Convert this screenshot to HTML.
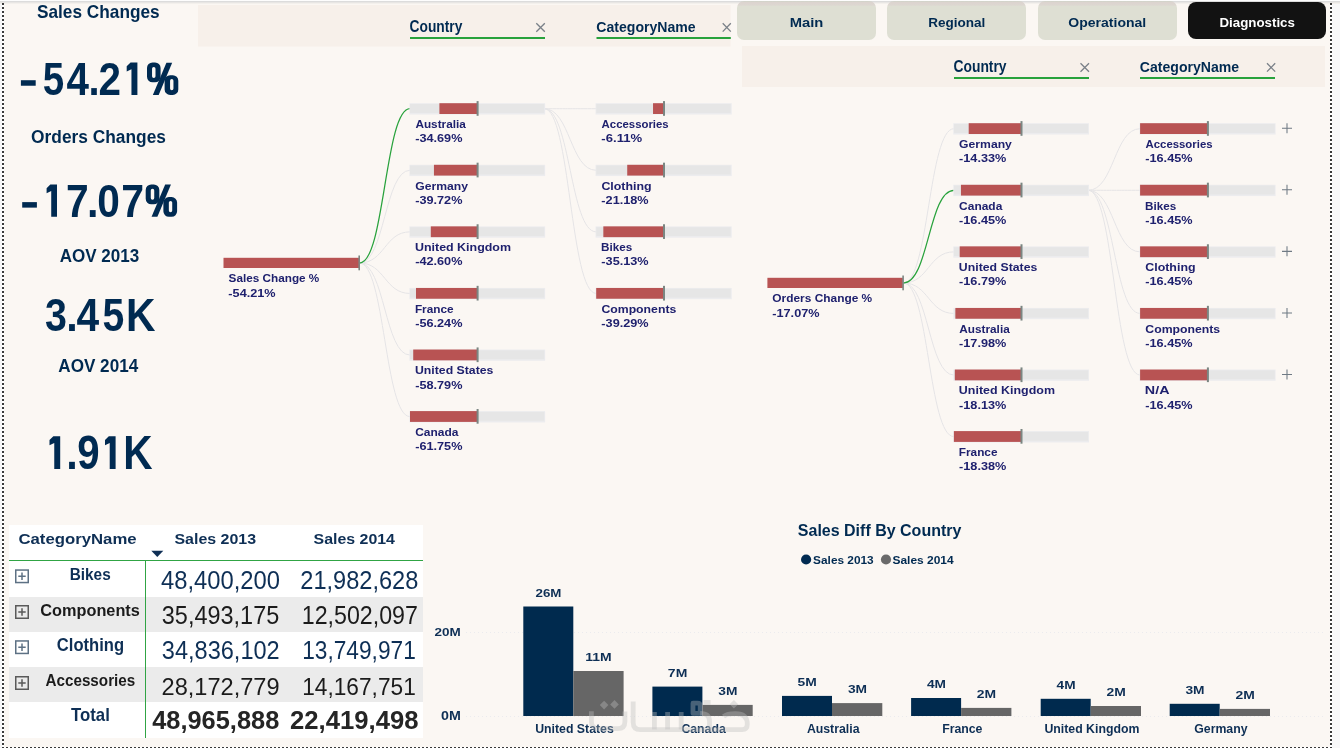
<!DOCTYPE html>
<html><head><meta charset="utf-8"><title>Diagnostics</title>
<style>
*{margin:0;padding:0;box-sizing:border-box}
html,body{width:1340px;height:748px;overflow:hidden;background:#f8f8f9;font-family:"Liberation Sans",sans-serif}
.abs{position:absolute}
#canvas{position:absolute;left:4px;top:2px;width:1326px;height:745px;background:#fbf7f3}
#topband{position:absolute;left:0;top:0;width:1340px;height:4px;background:linear-gradient(#fdfdfd 0,#fdfdfd 1px,#dcdcdc 1px,#dcdcdc 2px,#e8e6e4 2px,#e8e6e4 3px,#f3f0ec 3px,#f3f0ec 4px)}
.dotv{position:absolute;width:2px;background:repeating-linear-gradient(to bottom,#3a3a3a 0 2px,#fff 2px 4px)}
.doth{position:absolute;height:2px;background:repeating-linear-gradient(to right,#3a3a3a 0 2px,#fff 2px 4px)}
.btn{position:absolute;top:1px;height:39px;width:139px;border-radius:7px;background:linear-gradient(#cfd3c8 0,#dcd4cf 1.5px,#ddd7d1 4px,#dedfd3 5.5px)}
#tbl{position:absolute;left:9px;top:525px;width:414px;height:213px;background:#fff}
.grow{position:absolute;left:9px;width:414px;background:#ebebeb}
svg{position:absolute;left:0;top:0;will-change:transform}
text{font-family:"Liberation Sans",sans-serif}
</style></head><body>
<div id="canvas"></div>
<div id="topband"></div>
<div class="dotv" style="left:2px;top:3px;height:745px"></div>
<div class="dotv" style="left:1330px;top:3px;height:745px"></div>
<div class="doth" style="left:2px;top:747px;width:1330px"></div>
<div class="btn" style="left:737px"></div>
<div class="btn" style="left:887px"></div>
<div class="btn" style="left:1038px"></div>
<div class="btn" style="left:1188.4px;top:1.8px;height:37.1px;width:137.8px;background:#121212;border-radius:8px"></div>
<div id="tbl"></div>
<div class="grow" style="top:597px;height:34.5px"></div>
<div class="grow" style="top:667px;height:34.8px"></div>
<div class="abs" style="left:9px;top:559.8px;width:414px;height:1.3px;background:#30a444"></div>
<div class="abs" style="left:144.8px;top:561px;width:1.2px;height:176.5px;background:#30a444"></div>
<svg width="1340" height="748" viewBox="0 0 1340 748">
<text x="36.98" y="18.10" font-size="18.48" font-weight="700" fill="#002a51" textLength="122.74" lengthAdjust="spacingAndGlyphs">Sales Changes</text>
<rect x="20.90" y="80.22" width="14.80" height="5.51" fill="#002a51"/>
<text x="42.74" y="94.90" font-size="47.13" font-weight="700" fill="#002a51" textLength="21.46" lengthAdjust="spacingAndGlyphs">5</text>
<text x="66.49" y="94.90" font-size="47.13" font-weight="700" fill="#002a51" textLength="22.45" lengthAdjust="spacingAndGlyphs">4</text>
<text x="88.40" y="94.90" font-size="47.13" font-weight="700" fill="#002a51" textLength="11.11" lengthAdjust="spacingAndGlyphs">.</text>
<text x="98.59" y="94.90" font-size="47.13" font-weight="700" fill="#002a51" textLength="22.48" lengthAdjust="spacingAndGlyphs">2</text>
<path d="M126.70,66.23L130.55,62.50H137.40V94.90H131.46V69.21L126.70,71.44Z" fill="#002a51"/>
<path d="M152.50,62.50H155.08A5.50,5.50 0 0 1 160.58,68.00V76.86A5.50,5.50 0 0 1 155.08,82.36H152.50A5.50,5.50 0 0 1 147.00,76.86V68.00A5.50,5.50 0 0 1 152.50,62.50ZM153.74,66.97H153.81A1.70,1.70 0 0 1 155.51,68.67V76.19A1.70,1.70 0 0 1 153.81,77.89H153.74A1.70,1.70 0 0 1 152.04,76.19V68.67A1.70,1.70 0 0 1 153.74,66.97ZM170.12,75.14H172.80A5.50,5.50 0 0 1 178.30,80.64V89.40A5.50,5.50 0 0 1 172.80,94.90H170.12A5.50,5.50 0 0 1 164.62,89.40V80.64A5.50,5.50 0 0 1 170.12,75.14ZM171.76,79.02H171.76A1.69,1.69 0 0 1 173.45,80.71V88.54A1.69,1.69 0 0 1 171.76,90.23H171.76A1.69,1.69 0 0 1 170.07,88.54V80.71A1.69,1.69 0 0 1 171.76,79.02Z" fill="#002a51" fill-rule="evenodd"/><path d="M152.85,94.90L166.41,62.69H172.17L158.67,94.90Z" fill="#002a51"/>
<text x="31.11" y="143.20" font-size="18.90" font-weight="700" fill="#002a51" textLength="134.80" lengthAdjust="spacingAndGlyphs">Orders Changes</text>
<rect x="22.20" y="202.12" width="14.70" height="5.51" fill="#002a51"/>
<path d="M46.60,188.13L50.34,184.40H57.00V216.80H51.23V191.11L46.60,193.34Z" fill="#002a51"/>
<text x="66.06" y="216.80" font-size="47.13" font-weight="700" fill="#002a51" textLength="22.72" lengthAdjust="spacingAndGlyphs">7</text>
<text x="86.91" y="216.80" font-size="47.13" font-weight="700" fill="#002a51" textLength="11.50" lengthAdjust="spacingAndGlyphs">.</text>
<text x="97.37" y="216.80" font-size="47.13" font-weight="700" fill="#002a51" textLength="22.60" lengthAdjust="spacingAndGlyphs">0</text>
<text x="121.15" y="216.80" font-size="47.13" font-weight="700" fill="#002a51" textLength="22.84" lengthAdjust="spacingAndGlyphs">7</text>
<path d="M151.20,184.40H153.83A5.50,5.50 0 0 1 159.33,189.90V198.76A5.50,5.50 0 0 1 153.83,204.26H151.20A5.50,5.50 0 0 1 145.70,198.76V189.90A5.50,5.50 0 0 1 151.20,184.40ZM152.46,188.87H152.54A1.70,1.70 0 0 1 154.24,190.57V198.09A1.70,1.70 0 0 1 152.54,199.79H152.46A1.70,1.70 0 0 1 150.76,198.09V190.57A1.70,1.70 0 0 1 152.46,188.87ZM168.88,197.04H171.60A5.50,5.50 0 0 1 177.10,202.54V211.30A5.50,5.50 0 0 1 171.60,216.80H168.88A5.50,5.50 0 0 1 163.38,211.30V202.54A5.50,5.50 0 0 1 168.88,197.04ZM170.54,200.92H170.54A1.70,1.70 0 0 1 172.23,202.62V210.44A1.70,1.70 0 0 1 170.54,212.13H170.54A1.70,1.70 0 0 1 168.84,210.44V202.62A1.70,1.70 0 0 1 170.54,200.92Z" fill="#002a51" fill-rule="evenodd"/><path d="M151.57,216.80L165.17,184.59H170.95L157.41,216.80Z" fill="#002a51"/>
<text x="59.67" y="262.10" font-size="19.21" font-weight="700" fill="#002a51" textLength="79.56" lengthAdjust="spacingAndGlyphs">AOV 2013</text>
<text x="45.01" y="330.70" font-size="47.13" font-weight="700" fill="#002a51" textLength="21.91" lengthAdjust="spacingAndGlyphs">3</text>
<text x="66.21" y="330.70" font-size="47.13" font-weight="700" fill="#002a51" textLength="11.50" lengthAdjust="spacingAndGlyphs">.</text>
<text x="76.39" y="330.70" font-size="47.13" font-weight="700" fill="#002a51" textLength="22.66" lengthAdjust="spacingAndGlyphs">4</text>
<text x="102.42" y="330.70" font-size="47.13" font-weight="700" fill="#002a51" textLength="21.80" lengthAdjust="spacingAndGlyphs">5</text>
<text x="125.95" y="330.70" font-size="47.13" font-weight="700" fill="#002a51" textLength="29.45" lengthAdjust="spacingAndGlyphs">K</text>
<text x="58.27" y="372.20" font-size="18.92" font-weight="700" fill="#002a51" textLength="79.95" lengthAdjust="spacingAndGlyphs">AOV 2014</text>
<path d="M49.50,440.05L53.35,436.30H60.20V468.90H54.26V443.05L49.50,445.30Z" fill="#002a51"/>
<text x="66.31" y="468.90" font-size="47.42" font-weight="700" fill="#002a51" textLength="11.50" lengthAdjust="spacingAndGlyphs">.</text>
<text x="77.29" y="468.90" font-size="47.42" font-weight="700" fill="#002a51" textLength="22.36" lengthAdjust="spacingAndGlyphs">9</text>
<path d="M105.00,440.05L108.82,436.30H115.60V468.90H109.72V443.05L105.00,445.30Z" fill="#002a51"/>
<text x="123.36" y="468.90" font-size="47.42" font-weight="700" fill="#002a51" textLength="29.34" lengthAdjust="spacingAndGlyphs">K</text>
<rect x="198.00" y="5.00" width="532.50" height="41.50" fill="#f7f0ea"/>
<text x="409.55" y="32.10" font-size="15.91" font-weight="700" fill="#002a51" textLength="52.83" lengthAdjust="spacingAndGlyphs">Country</text>
<rect x="410.00" y="37.00" width="135.00" height="2.00" fill="#28a23c"/>
<path d="M536.3,23.3L544.8,31.8M544.8,23.3L536.3,31.8" fill="none" stroke="#7a8088" stroke-width="1.3"/>
<text x="596.34" y="31.80" font-size="15.20" font-weight="700" fill="#002a51" textLength="99.33" lengthAdjust="spacingAndGlyphs">CategoryName</text>
<rect x="596.50" y="37.00" width="134.30" height="2.00" fill="#28a23c"/>
<path d="M722.7,23.3L730.8,31.6M730.8,23.3L722.7,31.6" fill="none" stroke="#7a8088" stroke-width="1.3"/>
<path d="M359.5,263C384.75,263 384.75,170.27999999999997 410.0,170.27999999999997" fill="none" stroke="#e5e4e6" stroke-width="1"/>
<path d="M359.5,263C384.75,263 384.75,231.85999999999999 410.0,231.85999999999999" fill="none" stroke="#e5e4e6" stroke-width="1"/>
<path d="M359.5,263C384.75,263 384.75,293.44 410.0,293.44" fill="none" stroke="#e5e4e6" stroke-width="1"/>
<path d="M359.5,263C384.75,263 384.75,355.02 410.0,355.02" fill="none" stroke="#e5e4e6" stroke-width="1"/>
<path d="M359.5,263C384.75,263 384.75,416.59999999999997 410.0,416.59999999999997" fill="none" stroke="#e5e4e6" stroke-width="1"/>
<path d="M544.2,108.69999999999999C570.2,108.69999999999999 570.2,108.69999999999999 596.2,108.69999999999999" fill="none" stroke="#e5e4e6" stroke-width="1"/>
<path d="M544.2,108.69999999999999C570.2,108.69999999999999 570.2,170.27999999999997 596.2,170.27999999999997" fill="none" stroke="#e5e4e6" stroke-width="1"/>
<path d="M544.2,108.69999999999999C570.2,108.69999999999999 570.2,231.85999999999999 596.2,231.85999999999999" fill="none" stroke="#e5e4e6" stroke-width="1"/>
<path d="M544.2,108.69999999999999C570.2,108.69999999999999 570.2,293.44 596.2,293.44" fill="none" stroke="#e5e4e6" stroke-width="1"/>
<path d="M359.5,263C384.75,263 384.75,108.69999999999999 410.0,108.69999999999999" fill="none" stroke="#28a23c" stroke-width="1.25"/>
<rect x="223.50" y="257.80" width="135.50" height="10.20" fill="#b85353"/>
<rect x="358.40" y="255.50" width="1.60" height="14.80" fill="#7b8682"/>
<text x="228.55" y="282.20" font-size="11.80" font-weight="700" fill="#1f216e" textLength="90.78" lengthAdjust="spacingAndGlyphs">Sales Change %</text>
<text x="228.39" y="296.80" font-size="11.80" font-weight="700" fill="#1f216e" textLength="47.25" lengthAdjust="spacingAndGlyphs">-54.21%</text>
<rect x="409.40" y="103.20" width="135.70" height="11.30" fill="#ececee"/>
<rect x="410.00" y="104.00" width="134.20" height="8.90" fill="#e6e6e6"/>
<rect x="439.40" y="103.20" width="37.70" height="10.80" fill="#b85353"/>
<rect x="476.60" y="101.10" width="2.00" height="14.70" fill="#7b8682"/>
<text x="415.41" y="128.00" font-size="11.80" font-weight="700" fill="#1f216e" textLength="50.43" lengthAdjust="spacingAndGlyphs">Australia</text>
<text x="415.19" y="142.20" font-size="11.80" font-weight="700" fill="#1f216e" textLength="47.25" lengthAdjust="spacingAndGlyphs">-34.69%</text>
<rect x="409.40" y="164.78" width="135.70" height="11.30" fill="#ececee"/>
<rect x="410.00" y="165.58" width="134.20" height="8.90" fill="#e6e6e6"/>
<rect x="433.94" y="164.78" width="43.16" height="10.80" fill="#b85353"/>
<rect x="476.60" y="162.68" width="2.00" height="14.70" fill="#7b8682"/>
<text x="415.21" y="189.58" font-size="11.80" font-weight="700" fill="#1f216e" textLength="52.75" lengthAdjust="spacingAndGlyphs">Germany</text>
<text x="415.19" y="203.78" font-size="11.80" font-weight="700" fill="#1f216e" textLength="47.25" lengthAdjust="spacingAndGlyphs">-39.72%</text>
<rect x="409.40" y="226.36" width="135.70" height="11.30" fill="#ececee"/>
<rect x="410.00" y="227.16" width="134.20" height="8.90" fill="#e6e6e6"/>
<rect x="430.81" y="226.36" width="46.29" height="10.80" fill="#b85353"/>
<rect x="476.60" y="224.26" width="2.00" height="14.70" fill="#7b8682"/>
<text x="414.95" y="251.16" font-size="11.80" font-weight="700" fill="#1f216e" textLength="96.11" lengthAdjust="spacingAndGlyphs">United Kingdom</text>
<text x="415.19" y="265.36" font-size="11.80" font-weight="700" fill="#1f216e" textLength="47.25" lengthAdjust="spacingAndGlyphs">-42.60%</text>
<rect x="409.40" y="287.94" width="135.70" height="11.30" fill="#ececee"/>
<rect x="410.00" y="288.74" width="134.20" height="8.90" fill="#e6e6e6"/>
<rect x="415.99" y="287.94" width="61.11" height="10.80" fill="#b85353"/>
<rect x="476.60" y="285.84" width="2.00" height="14.70" fill="#7b8682"/>
<text x="414.90" y="312.74" font-size="11.80" font-weight="700" fill="#1f216e" textLength="38.70" lengthAdjust="spacingAndGlyphs">France</text>
<text x="415.19" y="326.94" font-size="11.80" font-weight="700" fill="#1f216e" textLength="47.25" lengthAdjust="spacingAndGlyphs">-56.24%</text>
<rect x="409.40" y="349.52" width="135.70" height="11.30" fill="#ececee"/>
<rect x="410.00" y="350.32" width="134.20" height="8.90" fill="#e6e6e6"/>
<rect x="413.22" y="349.52" width="63.88" height="10.80" fill="#b85353"/>
<rect x="476.60" y="347.42" width="2.00" height="14.70" fill="#7b8682"/>
<text x="414.96" y="374.32" font-size="11.80" font-weight="700" fill="#1f216e" textLength="78.43" lengthAdjust="spacingAndGlyphs">United States</text>
<text x="415.19" y="388.52" font-size="11.80" font-weight="700" fill="#1f216e" textLength="47.25" lengthAdjust="spacingAndGlyphs">-58.79%</text>
<rect x="409.40" y="411.10" width="135.70" height="11.30" fill="#ececee"/>
<rect x="410.00" y="411.90" width="134.20" height="8.90" fill="#e6e6e6"/>
<rect x="410.00" y="411.10" width="67.10" height="10.80" fill="#b85353"/>
<rect x="476.60" y="409.00" width="2.00" height="14.70" fill="#7b8682"/>
<text x="415.22" y="435.90" font-size="11.80" font-weight="700" fill="#1f216e" textLength="43.19" lengthAdjust="spacingAndGlyphs">Canada</text>
<text x="415.19" y="450.10" font-size="11.80" font-weight="700" fill="#1f216e" textLength="47.25" lengthAdjust="spacingAndGlyphs">-61.75%</text>
<rect x="595.60" y="103.20" width="136.10" height="11.30" fill="#ececee"/>
<rect x="596.20" y="104.00" width="134.60" height="8.90" fill="#e6e6e6"/>
<rect x="653.03" y="103.20" width="10.47" height="10.80" fill="#b85353"/>
<rect x="663.00" y="101.10" width="2.00" height="14.70" fill="#7b8682"/>
<text x="601.62" y="128.00" font-size="11.80" font-weight="700" fill="#1f216e" textLength="67.05" lengthAdjust="spacingAndGlyphs">Accessories</text>
<text x="601.38" y="142.20" font-size="11.80" font-weight="700" fill="#1f216e" textLength="40.76" lengthAdjust="spacingAndGlyphs">-6.11%</text>
<rect x="595.60" y="164.78" width="136.10" height="11.30" fill="#ececee"/>
<rect x="596.20" y="165.58" width="134.60" height="8.90" fill="#e6e6e6"/>
<rect x="627.22" y="164.78" width="36.28" height="10.80" fill="#b85353"/>
<rect x="663.00" y="162.68" width="2.00" height="14.70" fill="#7b8682"/>
<text x="601.40" y="189.58" font-size="11.80" font-weight="700" fill="#1f216e" textLength="50.22" lengthAdjust="spacingAndGlyphs">Clothing</text>
<text x="601.39" y="203.78" font-size="11.80" font-weight="700" fill="#1f216e" textLength="47.25" lengthAdjust="spacingAndGlyphs">-21.18%</text>
<rect x="595.60" y="226.36" width="136.10" height="11.30" fill="#ececee"/>
<rect x="596.20" y="227.16" width="134.60" height="8.90" fill="#e6e6e6"/>
<rect x="603.33" y="226.36" width="60.17" height="10.80" fill="#b85353"/>
<rect x="663.00" y="224.26" width="2.00" height="14.70" fill="#7b8682"/>
<text x="601.11" y="251.16" font-size="11.80" font-weight="700" fill="#1f216e" textLength="31.17" lengthAdjust="spacingAndGlyphs">Bikes</text>
<text x="601.39" y="265.36" font-size="11.80" font-weight="700" fill="#1f216e" textLength="47.25" lengthAdjust="spacingAndGlyphs">-35.13%</text>
<rect x="595.60" y="287.94" width="136.10" height="11.30" fill="#ececee"/>
<rect x="596.20" y="288.74" width="134.60" height="8.90" fill="#e6e6e6"/>
<rect x="596.20" y="287.94" width="67.30" height="10.80" fill="#b85353"/>
<rect x="663.00" y="285.84" width="2.00" height="14.70" fill="#7b8682"/>
<text x="601.41" y="312.74" font-size="11.80" font-weight="700" fill="#1f216e" textLength="74.89" lengthAdjust="spacingAndGlyphs">Components</text>
<text x="601.39" y="326.94" font-size="11.80" font-weight="700" fill="#1f216e" textLength="47.25" lengthAdjust="spacingAndGlyphs">-39.29%</text>
<rect x="742.00" y="46.00" width="583.00" height="41.00" fill="#f7f0ea"/>
<text x="953.45" y="72.10" font-size="15.91" font-weight="700" fill="#002a51" textLength="53.13" lengthAdjust="spacingAndGlyphs">Country</text>
<rect x="954.00" y="77.00" width="135.00" height="2.00" fill="#28a23c"/>
<path d="M1080.5,63.3L1089,71.8M1089,63.3L1080.5,71.8" fill="none" stroke="#7a8088" stroke-width="1.3"/>
<text x="1139.84" y="71.80" font-size="15.20" font-weight="700" fill="#002a51" textLength="99.33" lengthAdjust="spacingAndGlyphs">CategoryName</text>
<rect x="1140.00" y="77.00" width="135.00" height="2.00" fill="#28a23c"/>
<path d="M1267,63.3L1275.2,71.6M1275.2,63.3L1267,71.6" fill="none" stroke="#7a8088" stroke-width="1.3"/>
<path d="M903.4,283C928.65,283 928.65,128.7 953.9,128.7" fill="none" stroke="#e5e4e6" stroke-width="1"/>
<path d="M903.4,283C928.65,283 928.65,251.85999999999999 953.9,251.85999999999999" fill="none" stroke="#e5e4e6" stroke-width="1"/>
<path d="M903.4,283C928.65,283 928.65,313.44 953.9,313.44" fill="none" stroke="#e5e4e6" stroke-width="1"/>
<path d="M903.4,283C928.65,283 928.65,375.02 953.9,375.02" fill="none" stroke="#e5e4e6" stroke-width="1"/>
<path d="M903.4,283C928.65,283 928.65,436.59999999999997 953.9,436.59999999999997" fill="none" stroke="#e5e4e6" stroke-width="1"/>
<path d="M1088.1,190.27999999999997C1114.1,190.27999999999997 1114.1,128.7 1140.1,128.7" fill="none" stroke="#e5e4e6" stroke-width="1"/>
<path d="M1088.1,190.27999999999997C1114.1,190.27999999999997 1114.1,190.27999999999997 1140.1,190.27999999999997" fill="none" stroke="#e5e4e6" stroke-width="1"/>
<path d="M1088.1,190.27999999999997C1114.1,190.27999999999997 1114.1,251.85999999999999 1140.1,251.85999999999999" fill="none" stroke="#e5e4e6" stroke-width="1"/>
<path d="M1088.1,190.27999999999997C1114.1,190.27999999999997 1114.1,313.44 1140.1,313.44" fill="none" stroke="#e5e4e6" stroke-width="1"/>
<path d="M1088.1,190.27999999999997C1114.1,190.27999999999997 1114.1,375.02 1140.1,375.02" fill="none" stroke="#e5e4e6" stroke-width="1"/>
<path d="M903.4,283C928.65,283 928.65,190.27999999999997 953.9,190.27999999999997" fill="none" stroke="#28a23c" stroke-width="1.25"/>
<rect x="767.40" y="277.80" width="135.50" height="10.20" fill="#b85353"/>
<rect x="902.30" y="275.50" width="1.60" height="14.80" fill="#7b8682"/>
<text x="772.32" y="302.20" font-size="11.80" font-weight="700" fill="#1f216e" textLength="99.89" lengthAdjust="spacingAndGlyphs">Orders Change %</text>
<text x="772.29" y="316.80" font-size="11.80" font-weight="700" fill="#1f216e" textLength="47.25" lengthAdjust="spacingAndGlyphs">-17.07%</text>
<rect x="953.30" y="123.20" width="135.70" height="11.30" fill="#ececee"/>
<rect x="953.90" y="124.00" width="134.20" height="8.90" fill="#e6e6e6"/>
<rect x="968.69" y="123.20" width="52.31" height="10.80" fill="#b85353"/>
<rect x="1020.50" y="121.10" width="2.00" height="14.70" fill="#7b8682"/>
<text x="959.11" y="148.00" font-size="11.80" font-weight="700" fill="#1f216e" textLength="52.75" lengthAdjust="spacingAndGlyphs">Germany</text>
<text x="959.09" y="162.20" font-size="11.80" font-weight="700" fill="#1f216e" textLength="47.25" lengthAdjust="spacingAndGlyphs">-14.33%</text>
<rect x="953.30" y="184.78" width="135.70" height="11.30" fill="#ececee"/>
<rect x="953.90" y="185.58" width="134.20" height="8.90" fill="#e6e6e6"/>
<rect x="960.95" y="184.78" width="60.05" height="10.80" fill="#b85353"/>
<rect x="1020.50" y="182.68" width="2.00" height="14.70" fill="#7b8682"/>
<text x="959.12" y="209.58" font-size="11.80" font-weight="700" fill="#1f216e" textLength="43.19" lengthAdjust="spacingAndGlyphs">Canada</text>
<text x="959.09" y="223.78" font-size="11.80" font-weight="700" fill="#1f216e" textLength="47.25" lengthAdjust="spacingAndGlyphs">-16.45%</text>
<rect x="953.30" y="246.36" width="135.70" height="11.30" fill="#ececee"/>
<rect x="953.90" y="247.16" width="134.20" height="8.90" fill="#e6e6e6"/>
<rect x="959.70" y="246.36" width="61.30" height="10.80" fill="#b85353"/>
<rect x="1020.50" y="244.26" width="2.00" height="14.70" fill="#7b8682"/>
<text x="958.86" y="271.16" font-size="11.80" font-weight="700" fill="#1f216e" textLength="78.43" lengthAdjust="spacingAndGlyphs">United States</text>
<text x="959.09" y="285.36" font-size="11.80" font-weight="700" fill="#1f216e" textLength="47.25" lengthAdjust="spacingAndGlyphs">-16.79%</text>
<rect x="953.30" y="307.94" width="135.70" height="11.30" fill="#ececee"/>
<rect x="953.90" y="308.74" width="134.20" height="8.90" fill="#e6e6e6"/>
<rect x="955.36" y="307.94" width="65.64" height="10.80" fill="#b85353"/>
<rect x="1020.50" y="305.84" width="2.00" height="14.70" fill="#7b8682"/>
<text x="959.31" y="332.74" font-size="11.80" font-weight="700" fill="#1f216e" textLength="50.43" lengthAdjust="spacingAndGlyphs">Australia</text>
<text x="959.09" y="346.94" font-size="11.80" font-weight="700" fill="#1f216e" textLength="47.25" lengthAdjust="spacingAndGlyphs">-17.98%</text>
<rect x="953.30" y="369.52" width="135.70" height="11.30" fill="#ececee"/>
<rect x="953.90" y="370.32" width="134.20" height="8.90" fill="#e6e6e6"/>
<rect x="954.81" y="369.52" width="66.19" height="10.80" fill="#b85353"/>
<rect x="1020.50" y="367.42" width="2.00" height="14.70" fill="#7b8682"/>
<text x="958.85" y="394.32" font-size="11.80" font-weight="700" fill="#1f216e" textLength="96.11" lengthAdjust="spacingAndGlyphs">United Kingdom</text>
<text x="959.09" y="408.52" font-size="11.80" font-weight="700" fill="#1f216e" textLength="47.25" lengthAdjust="spacingAndGlyphs">-18.13%</text>
<rect x="953.30" y="431.10" width="135.70" height="11.30" fill="#ececee"/>
<rect x="953.90" y="431.90" width="134.20" height="8.90" fill="#e6e6e6"/>
<rect x="953.90" y="431.10" width="67.10" height="10.80" fill="#b85353"/>
<rect x="1020.50" y="429.00" width="2.00" height="14.70" fill="#7b8682"/>
<text x="958.80" y="455.90" font-size="11.80" font-weight="700" fill="#1f216e" textLength="38.70" lengthAdjust="spacingAndGlyphs">France</text>
<text x="959.09" y="470.10" font-size="11.80" font-weight="700" fill="#1f216e" textLength="47.25" lengthAdjust="spacingAndGlyphs">-18.38%</text>
<rect x="1139.50" y="123.20" width="136.10" height="11.30" fill="#ececee"/>
<rect x="1140.10" y="124.00" width="134.60" height="8.90" fill="#e6e6e6"/>
<rect x="1140.10" y="123.20" width="67.30" height="10.80" fill="#b85353"/>
<rect x="1206.90" y="121.10" width="2.00" height="14.70" fill="#7b8682"/>
<text x="1145.52" y="148.00" font-size="11.80" font-weight="700" fill="#1f216e" textLength="67.05" lengthAdjust="spacingAndGlyphs">Accessories</text>
<text x="1145.29" y="162.20" font-size="11.80" font-weight="700" fill="#1f216e" textLength="47.25" lengthAdjust="spacingAndGlyphs">-16.45%</text>
<path d="M1281.9999999999998,128.2H1291.9999999999998M1286.9999999999998,123.19999999999999V133.2" fill="none" stroke="#6f7a84" stroke-width="1.05"/>
<rect x="1139.50" y="184.78" width="136.10" height="11.30" fill="#ececee"/>
<rect x="1140.10" y="185.58" width="134.60" height="8.90" fill="#e6e6e6"/>
<rect x="1140.10" y="184.78" width="67.30" height="10.80" fill="#b85353"/>
<rect x="1206.90" y="182.68" width="2.00" height="14.70" fill="#7b8682"/>
<text x="1145.01" y="209.58" font-size="11.80" font-weight="700" fill="#1f216e" textLength="31.17" lengthAdjust="spacingAndGlyphs">Bikes</text>
<text x="1145.29" y="223.78" font-size="11.80" font-weight="700" fill="#1f216e" textLength="47.25" lengthAdjust="spacingAndGlyphs">-16.45%</text>
<path d="M1281.9999999999998,189.77999999999997H1291.9999999999998M1286.9999999999998,184.77999999999997V194.77999999999997" fill="none" stroke="#6f7a84" stroke-width="1.05"/>
<rect x="1139.50" y="246.36" width="136.10" height="11.30" fill="#ececee"/>
<rect x="1140.10" y="247.16" width="134.60" height="8.90" fill="#e6e6e6"/>
<rect x="1140.10" y="246.36" width="67.30" height="10.80" fill="#b85353"/>
<rect x="1206.90" y="244.26" width="2.00" height="14.70" fill="#7b8682"/>
<text x="1145.30" y="271.16" font-size="11.80" font-weight="700" fill="#1f216e" textLength="50.22" lengthAdjust="spacingAndGlyphs">Clothing</text>
<text x="1145.29" y="285.36" font-size="11.80" font-weight="700" fill="#1f216e" textLength="47.25" lengthAdjust="spacingAndGlyphs">-16.45%</text>
<path d="M1281.9999999999998,251.35999999999999H1291.9999999999998M1286.9999999999998,246.35999999999999V256.36" fill="none" stroke="#6f7a84" stroke-width="1.05"/>
<rect x="1139.50" y="307.94" width="136.10" height="11.30" fill="#ececee"/>
<rect x="1140.10" y="308.74" width="134.60" height="8.90" fill="#e6e6e6"/>
<rect x="1140.10" y="307.94" width="67.30" height="10.80" fill="#b85353"/>
<rect x="1206.90" y="305.84" width="2.00" height="14.70" fill="#7b8682"/>
<text x="1145.31" y="332.74" font-size="11.80" font-weight="700" fill="#1f216e" textLength="74.89" lengthAdjust="spacingAndGlyphs">Components</text>
<text x="1145.29" y="346.94" font-size="11.80" font-weight="700" fill="#1f216e" textLength="47.25" lengthAdjust="spacingAndGlyphs">-16.45%</text>
<path d="M1281.9999999999998,312.94H1291.9999999999998M1286.9999999999998,307.94V317.94" fill="none" stroke="#6f7a84" stroke-width="1.05"/>
<rect x="1139.50" y="369.52" width="136.10" height="11.30" fill="#ececee"/>
<rect x="1140.10" y="370.32" width="134.60" height="8.90" fill="#e6e6e6"/>
<rect x="1140.10" y="369.52" width="67.30" height="10.80" fill="#b85353"/>
<rect x="1206.90" y="367.42" width="2.00" height="14.70" fill="#7b8682"/>
<text x="1144.83" y="394.32" font-size="11.80" font-weight="700" fill="#1f216e" textLength="24.66" lengthAdjust="spacingAndGlyphs">N/A</text>
<text x="1145.29" y="408.52" font-size="11.80" font-weight="700" fill="#1f216e" textLength="47.25" lengthAdjust="spacingAndGlyphs">-16.45%</text>
<path d="M1281.9999999999998,374.52H1291.9999999999998M1286.9999999999998,369.52V379.52" fill="none" stroke="#6f7a84" stroke-width="1.05"/>
<text x="789.70" y="26.70" font-size="12.97" font-weight="700" fill="#002a51" textLength="33.59" lengthAdjust="spacingAndGlyphs">Main</text>
<text x="928.19" y="26.70" font-size="12.97" font-weight="700" fill="#002a51" textLength="57.17" lengthAdjust="spacingAndGlyphs">Regional</text>
<text x="1068.34" y="26.70" font-size="12.97" font-weight="700" fill="#002a51" textLength="77.93" lengthAdjust="spacingAndGlyphs">Operational</text>
<text x="1219.40" y="26.70" font-size="12.97" font-weight="700" fill="#ffffff" textLength="75.54" lengthAdjust="spacingAndGlyphs">Diagnostics</text>
<text x="18.43" y="544.30" font-size="15.48" font-weight="700" fill="#0e2f55" textLength="118.23" lengthAdjust="spacingAndGlyphs">CategoryName</text>
<text x="174.42" y="544.30" font-size="14.90" font-weight="700" fill="#0e2f55" textLength="81.75" lengthAdjust="spacingAndGlyphs">Sales 2013</text>
<text x="313.52" y="544.30" font-size="14.90" font-weight="700" fill="#0e2f55" textLength="81.47" lengthAdjust="spacingAndGlyphs">Sales 2014</text>
<path d="M151.3,550.8H163.3L157.3,557Z" fill="#0e2f55"/>
<text x="69.66" y="580.10" font-size="15.72" font-weight="700" fill="#0e2f55" textLength="41.07" lengthAdjust="spacingAndGlyphs">Bikes</text>
<text x="160.96" y="589.00" font-size="25.66" font-weight="400" fill="#0e2f55" textLength="119.03" lengthAdjust="spacingAndGlyphs">48,400,200</text>
<text x="300.32" y="589.00" font-size="25.66" font-weight="400" fill="#0e2f55" textLength="117.98" lengthAdjust="spacingAndGlyphs">21,982,628</text>
<text x="40.25" y="615.60" font-size="16.34" font-weight="700" fill="#1b1b1b" textLength="99.62" lengthAdjust="spacingAndGlyphs">Components</text>
<text x="161.82" y="623.70" font-size="24.95" font-weight="400" fill="#1b1b1b" textLength="117.42" lengthAdjust="spacingAndGlyphs">35,493,175</text>
<text x="301.76" y="623.70" font-size="24.95" font-weight="400" fill="#1b1b1b" textLength="116.20" lengthAdjust="spacingAndGlyphs">12,502,097</text>
<text x="56.84" y="651.10" font-size="17.66" font-weight="700" fill="#0e2f55" textLength="67.27" lengthAdjust="spacingAndGlyphs">Clothing</text>
<text x="161.82" y="658.60" font-size="24.95" font-weight="400" fill="#0e2f55" textLength="117.86" lengthAdjust="spacingAndGlyphs">34,836,102</text>
<text x="302.20" y="658.60" font-size="24.95" font-weight="400" fill="#0e2f55" textLength="113.58" lengthAdjust="spacingAndGlyphs">13,749,971</text>
<text x="45.52" y="685.80" font-size="16.69" font-weight="700" fill="#1b1b1b" textLength="89.70" lengthAdjust="spacingAndGlyphs">Accessories</text>
<text x="161.52" y="694.60" font-size="24.80" font-weight="400" fill="#1b1b1b" textLength="118.04" lengthAdjust="spacingAndGlyphs">28,172,779</text>
<text x="302.20" y="694.60" font-size="24.80" font-weight="400" fill="#1b1b1b" textLength="113.58" lengthAdjust="spacingAndGlyphs">14,167,751</text>
<text x="71.03" y="721.10" font-size="17.66" font-weight="700" fill="#0e2f55" textLength="38.83" lengthAdjust="spacingAndGlyphs">Total</text>
<text x="152.22" y="728.80" font-size="25.09" font-weight="700" fill="#252525" textLength="127.04" lengthAdjust="spacingAndGlyphs">48,965,888</text>
<text x="290.00" y="728.80" font-size="25.09" font-weight="700" fill="#252525" textLength="128.47" lengthAdjust="spacingAndGlyphs">22,419,498</text>
<rect x="15.75" y="570.05" width="12.5" height="12.5" fill="none" stroke="#5d7184" stroke-width="1.5"/>
<path d="M18.3,576.3H25.7M22,572.6V580.0" fill="none" stroke="#5d7184" stroke-width="1.5"/>
<rect x="15.75" y="605.75" width="12.5" height="12.5" fill="none" stroke="#5a5a5a" stroke-width="1.5"/>
<path d="M18.3,612.0H25.7M22,608.3V615.7" fill="none" stroke="#5a5a5a" stroke-width="1.5"/>
<rect x="15.75" y="640.95" width="12.5" height="12.5" fill="none" stroke="#5d7184" stroke-width="1.5"/>
<path d="M18.3,647.2H25.7M22,643.5V650.9" fill="none" stroke="#5d7184" stroke-width="1.5"/>
<rect x="15.75" y="676.75" width="12.5" height="12.5" fill="none" stroke="#5a5a5a" stroke-width="1.5"/>
<path d="M18.3,683.0H25.7M22,679.3V686.7" fill="none" stroke="#5a5a5a" stroke-width="1.5"/>
<text x="797.82" y="536.20" font-size="16.69" font-weight="700" fill="#002a51" textLength="163.59" lengthAdjust="spacingAndGlyphs">Sales Diff By Country</text>
<circle cx="806.1" cy="559.5" r="5.1" fill="#002a51"/>
<circle cx="886" cy="559.5" r="5.1" fill="#6a6a6a"/>
<text x="813.14" y="564.40" font-size="11.59" font-weight="700" fill="#002a51" textLength="60.58" lengthAdjust="spacingAndGlyphs">Sales 2013</text>
<text x="892.44" y="564.40" font-size="11.59" font-weight="700" fill="#002a51" textLength="61.23" lengthAdjust="spacingAndGlyphs">Sales 2014</text>
<line x1="466" y1="632.5" x2="1323" y2="632.5" stroke="#ebebee" stroke-width="1" stroke-dasharray="1,3"/>
<line x1="466" y1="716.5" x2="1323" y2="716.5" stroke="#ebebee" stroke-width="1" stroke-dasharray="1,3"/>
<text x="434.53" y="635.70" font-size="11.61" font-weight="700" fill="#0e2f55" textLength="26.25" lengthAdjust="spacingAndGlyphs">20M</text>
<text x="441.13" y="719.80" font-size="11.90" font-weight="700" fill="#0e2f55" textLength="19.82" lengthAdjust="spacingAndGlyphs">0M</text>
<rect x="523.30" y="606.50" width="50.00" height="109.50" fill="#002a4e"/>
<rect x="573.30" y="671.00" width="50.30" height="45.00" fill="#666666"/>
<text x="535.53" y="596.50" font-size="11.80" font-weight="700" fill="#0e2f55" textLength="25.94" lengthAdjust="spacingAndGlyphs">26M</text>
<text x="585.33" y="661.00" font-size="11.80" font-weight="700" fill="#0e2f55" textLength="26.38" lengthAdjust="spacingAndGlyphs">11M</text>
<text x="574.50" y="732.8" font-size="12.3" font-weight="700" fill="#0e2f55" text-anchor="middle" class="bl">United States</text>
<rect x="652.40" y="686.60" width="50.00" height="29.40" fill="#002a4e"/>
<rect x="702.40" y="704.90" width="50.30" height="11.10" fill="#666666"/>
<text x="667.86" y="676.60" font-size="11.80" font-weight="700" fill="#0e2f55" textLength="19.43" lengthAdjust="spacingAndGlyphs">7M</text>
<text x="718.34" y="694.90" font-size="11.80" font-weight="700" fill="#0e2f55" textLength="19.13" lengthAdjust="spacingAndGlyphs">3M</text>
<text x="703.60" y="732.8" font-size="12.3" font-weight="700" fill="#0e2f55" text-anchor="middle" class="bl">Canada</text>
<rect x="782.00" y="695.90" width="50.00" height="20.10" fill="#002a4e"/>
<rect x="832.00" y="703.10" width="50.30" height="12.90" fill="#666666"/>
<text x="797.63" y="685.90" font-size="11.80" font-weight="700" fill="#0e2f55" textLength="19.24" lengthAdjust="spacingAndGlyphs">5M</text>
<text x="847.94" y="693.10" font-size="11.80" font-weight="700" fill="#0e2f55" textLength="19.13" lengthAdjust="spacingAndGlyphs">3M</text>
<text x="833.20" y="732.8" font-size="12.3" font-weight="700" fill="#0e2f55" text-anchor="middle" class="bl">Australia</text>
<rect x="911.10" y="698.00" width="50.00" height="18.00" fill="#002a4e"/>
<rect x="961.10" y="707.90" width="50.30" height="8.10" fill="#666666"/>
<text x="926.94" y="688.00" font-size="11.80" font-weight="700" fill="#0e2f55" textLength="19.02" lengthAdjust="spacingAndGlyphs">4M</text>
<text x="976.86" y="697.90" font-size="11.80" font-weight="700" fill="#0e2f55" textLength="19.31" lengthAdjust="spacingAndGlyphs">2M</text>
<text x="962.30" y="732.8" font-size="12.3" font-weight="700" fill="#0e2f55" text-anchor="middle" class="bl">France</text>
<rect x="1040.70" y="698.80" width="50.00" height="17.20" fill="#002a4e"/>
<rect x="1090.70" y="706.00" width="50.30" height="10.00" fill="#666666"/>
<text x="1056.54" y="688.80" font-size="11.80" font-weight="700" fill="#0e2f55" textLength="19.02" lengthAdjust="spacingAndGlyphs">4M</text>
<text x="1106.46" y="696.00" font-size="11.80" font-weight="700" fill="#0e2f55" textLength="19.31" lengthAdjust="spacingAndGlyphs">2M</text>
<text x="1091.90" y="732.8" font-size="12.3" font-weight="700" fill="#0e2f55" text-anchor="middle" class="bl">United Kingdom</text>
<rect x="1169.70" y="703.80" width="50.00" height="12.20" fill="#002a4e"/>
<rect x="1219.70" y="708.90" width="50.30" height="7.10" fill="#666666"/>
<text x="1185.44" y="693.80" font-size="11.80" font-weight="700" fill="#0e2f55" textLength="19.13" lengthAdjust="spacingAndGlyphs">3M</text>
<text x="1235.46" y="698.90" font-size="11.80" font-weight="700" fill="#0e2f55" textLength="19.31" lengthAdjust="spacingAndGlyphs">2M</text>
<text x="1220.90" y="732.8" font-size="12.3" font-weight="700" fill="#0e2f55" text-anchor="middle" class="bl">Germany</text>
<g fill="none" stroke="rgba(190,190,190,0.38)" stroke-width="4.8" stroke-linejoin="round"><path d="M591.4,711.2V721.5Q591.4,728.7 598.6,728.7H617.8Q624.9,728.7 624.9,721.5V711.5"/><path d="M633.2,701.5V722.4Q633.2,729.6 640.4,729.6H742Q747.3,729.6 747.3,724Q747.3,713.6 735.5,713.6Q727,713.6 723.5,716.5"/><path d="M654.4,712V729.6M667.6,712V729.6M681.2,712V729.6"/><path d="M693,703.2H697.6Q700.2,703.2 700.2,705.8V713.4H693Z"/><path d="M700.2,713.4Q709.5,713.4 709.5,721V729.6"/><path d="M703.4,702.4H710.6"/></g>
<path d="M599.8000000000001,705.1L604.1,700.8000000000001L608.4,705.1L604.1,709.4Z" fill="rgba(190,190,190,0.38)"/>
<path d="M610.2,704.4L614.5,700.1L618.8,704.4L614.5,708.6999999999999Z" fill="rgba(190,190,190,0.38)"/>
<path d="M729.6,704.2L733.9,699.9000000000001L738.1999999999999,704.2L733.9,708.5Z" fill="rgba(190,190,190,0.38)"/>
</svg>
</body></html>
